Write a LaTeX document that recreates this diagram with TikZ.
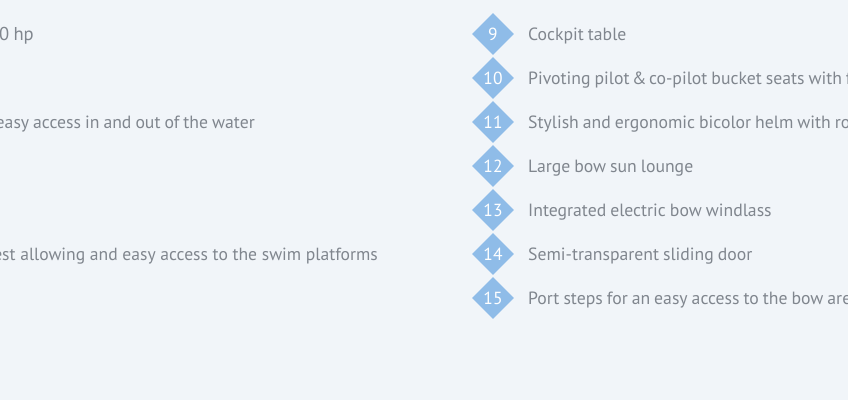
\documentclass[tikz,border=0pt]{standalone}
\usepackage{fontspec}
\setmainfont[WordSpace=0.85]{PT Sans}
\newfontfamily\fullspace{PT Sans}
\usetikzlibrary{shapes.geometric}
\definecolor{pagebg}{HTML}{F1F5F9}
\definecolor{badge}{HTML}{8FBCE8}
\definecolor{itemtext}{HTML}{80868E}
\tikzset{
  badgenode/.style={diamond,fill=badge,inner sep=0pt,minimum width=42pt,minimum height=42pt,text=white,font=\fontsize{17.5}{20}\selectfont},
  itemlabel/.style={anchor=base west,inner sep=0pt,text=itemtext,font=\fontsize{17.7}{22}\selectfont},
  cutlabel/.style={anchor=base east,inner sep=0pt,text=itemtext,font=\fontsize{17.7}{22}\selectfont}
}
\begin{document}
\begin{tikzpicture}[x=1pt,y=-1pt]
\useasboundingbox (0,0) rectangle (848,400);
\fill[pagebg] (0,0) rectangle (848,400);
\clip (0,0) rectangle (848,400);
\node[cutlabel,font=\fontsize{18.6}{22}\selectfont] (a) at (34,40) {00 hp};
\node[cutlabel] (b) at (255,128) {easy access in and out of the water};
\node[cutlabel,font=\fontsize{17.6}{22}\fullspace] (c) at (378,260) {est allowing and easy access to the swim platforms};
\node[badgenode] (n9) at (493,34) {9};
\node[badgenode] (n10) at (493,78) {10};
\node[badgenode] (n11) at (493,122) {11};
\node[badgenode] (n12) at (493,166) {12};
\node[badgenode] (n13) at (493,210) {13};
\node[badgenode] (n14) at (493,254) {14};
\node[badgenode] (n15) at (493,298) {15};
\node[itemlabel] (t9) at (528,40) {Cockpit table};
\node[itemlabel] (t10) at (528,84) {Pivoting pilot\kern-1.5pt{} \&\kern-1.5pt{} co-pilot bucket seats with f};
\node[itemlabel] (t11) at (528,128) {Stylish and ergonomic bicolor helm with ro};
\node[itemlabel] (t12) at (528,172) {Large bow sun lounge};
\node[itemlabel] (t13) at (528,216) {Integrated electric bow windlass};
\node[itemlabel] (t14) at (528,260) {Semi-transparent sliding door};
\node[itemlabel] (t15) at (528,304) {Port steps for an easy access to the bow are};
\end{tikzpicture}
\end{document}
